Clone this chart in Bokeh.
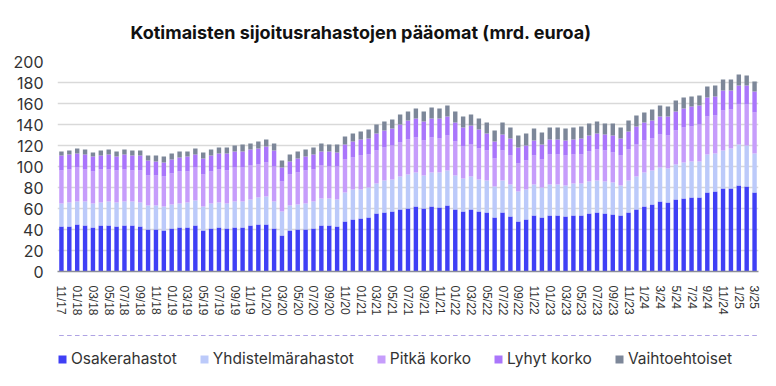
from bokeh.plotting import figure
from bokeh.models import ColumnDataSource, Legend, LegendItem, FixedTicker, Range1d
from bokeh.layouts import column
from bokeh.embed import file_html
from bokeh.resources import INLINE

# Monthly categories 11/2017 .. 3/2025
months = []
y, m = 2017, 11
while (y, m) <= (2025, 3):
    months.append(f"{m:02d}/{y % 100:02d}")
    m += 1
    if m > 12:
        m, y = 1, y + 1

tick_labels = [
    "11/17", "01/18", "03/18", "05/18", "07/18", "09/18", "11/18", "01/19", "03/19",
    "05/19", "07/19", "09/19", "11/19", "01/20", "03/20", "05/20", "07/20", "09/20",
    "11/20", "01/21", "03/21", "05/21", "07/21", "09/21", "11/21", "01/22", "03/22",
    "05/22", "07/22", "09/22", "11/22", "01/23", "03/23", "05/23", "07/23", "09/23",
    "11/23", "1/24", "3/24", "5/24", "7/24", "9/24", "11/24", "1/25", "3/25",
]

osake = [42.9, 42.9, 44.8, 43.8, 41.9, 43.8, 43.8, 42.9, 43.8, 43.8, 42.9, 40.0, 40.0, 39.0, 41.0,
         41.9, 41.9, 43.8, 39.0, 41.0, 41.9, 41.0, 41.9, 41.9, 43.8, 44.8, 44.8, 41.0, 34.3, 39.0,
         40.0, 40.0, 41.0, 43.8, 43.8, 42.9, 47.6, 49.5, 50.5, 51.4, 55.2, 56.2, 57.1, 59.0, 60.0,
         61.9, 60.0, 61.9, 61.0, 62.9, 59.0, 57.1, 59.0, 57.1, 56.2, 51.4, 56.2, 52.4, 47.6, 49.5,
         53.3, 51.4, 53.3, 53.3, 52.4, 53.3, 53.3, 55.2, 56.2, 55.2, 54.3, 53.3, 56.2, 59.0, 61.9,
         63.8, 66.7, 65.7, 68.6, 69.5, 70.5, 70.5, 75.2, 76.2, 79.0, 79.0, 81.9, 81.0, 75.2]
yhdistelma = [21.9, 22.8, 21.9, 22.9, 22.9, 21.9, 22.9, 22.8, 22.9, 22.9, 22.8, 22.9, 22.9, 22.9, 22.8,
              22.9, 23.8, 23.8, 22.9, 23.8, 23.8, 23.8, 24.8, 24.8, 24.8, 25.7, 26.6, 25.7, 22.8, 23.9,
              23.8, 24.8, 25.7, 25.7, 25.7, 25.7, 27.6, 28.6, 27.6, 28.6, 28.6, 30.5, 30.5, 31.5, 32.4,
              32.4, 31.4, 32.4, 33.3, 33.3, 32.4, 31.5, 31.5, 30.5, 30.5, 29.6, 30.5, 30.5, 28.6, 28.6,
              29.6, 28.6, 29.6, 29.6, 29.5, 30.5, 30.5, 30.5, 30.5, 30.5, 30.5, 28.6, 30.5, 31.5, 32.4,
              32.4, 32.3, 32.4, 33.3, 34.3, 34.3, 34.3, 36.2, 36.2, 36.2, 38.1, 39.0, 39.0, 37.2]
pitka_korko = [31.4, 31.4, 32.3, 30.4, 30.4, 31.4, 30.4, 30.5, 30.4, 29.5, 30.5, 28.5, 28.5, 28.6, 29.5,
               30.4, 29.5, 31.4, 30.5, 30.4, 31.4, 31.4, 32.3, 32.3, 32.4, 31.4, 32.4, 33.3, 28.6, 29.5,
               30.5, 31.4, 30.4, 31.5, 30.5, 31.4, 31.5, 30.5, 32.4, 31.4, 31.4, 31.4, 32.4, 32.4, 33.3,
               33.3, 33.4, 33.3, 32.4, 33.3, 32.4, 30.4, 30.5, 29.5, 28.5, 26.6, 28.5, 27.6, 26.7, 27.6,
               27.6, 26.7, 28.5, 28.5, 28.6, 27.6, 27.6, 28.6, 29.5, 29.5, 28.5, 28.6, 29.5, 30.5, 30.5,
               30.5, 31.5, 31.4, 32.4, 33.3, 33.3, 35.2, 36.2, 36.2, 38.1, 37.2, 38.1, 39.0, 39.0]
lyhyt_korko = [14.3, 14.3, 13.4, 14.3, 14.3, 13.4, 14.3, 13.3, 14.3, 14.3, 14.3, 14.3, 13.4, 13.3, 13.4,
               13.4, 14.3, 12.4, 15.2, 15.3, 15.3, 16.2, 15.3, 15.3, 15.2, 15.2, 15.2, 15.2, 13.3, 12.4,
               13.3, 13.3, 14.3, 13.3, 14.3, 13.3, 14.3, 15.2, 15.2, 15.3, 16.2, 16.2, 16.2, 17.1, 18.1,
               18.1, 18.1, 18.1, 19.0, 18.1, 18.1, 18.1, 18.0, 18.1, 16.2, 16.2, 15.3, 16.2, 15.2, 14.3,
               14.3, 14.3, 14.3, 14.3, 14.3, 14.3, 15.3, 15.2, 15.2, 15.3, 16.2, 16.2, 17.1, 17.1, 17.1,
               17.1, 17.1, 18.1, 18.1, 18.1, 19.0, 18.1, 18.1, 18.1, 19.1, 18.1, 18.1, 18.1, 20.0]
vaihtoehtoiset = [3.8, 3.8, 4.7, 4.8, 3.8, 4.7, 4.8, 4.8, 4.8, 4.7, 4.7, 4.8, 5.7, 5.7, 5.7,
                  5.7, 4.8, 5.7, 5.7, 5.7, 5.7, 5.7, 5.7, 6.7, 5.7, 6.7, 6.7, 6.7, 6.7, 6.6,
                  6.7, 6.7, 6.7, 7.6, 6.7, 7.7, 7.6, 7.6, 7.6, 8.5, 8.6, 8.6, 8.6, 9.5, 8.6,
                  9.5, 9.5, 10.5, 9.5, 10.5, 10.5, 10.5, 10.5, 10.5, 10.5, 10.5, 11.4, 10.4, 11.4, 11.4,
                  11.4, 11.4, 11.4, 11.4, 11.4, 11.4, 11.4, 11.5, 11.5, 10.5, 11.5, 10.4, 10.5, 10.5, 9.5,
                  10.5, 10.5, 9.5, 10.5, 10.5, 9.6, 9.5, 10.5, 10.4, 10.5, 10.5, 10.5, 9.6, 9.6]

series = ["Osakerahastot", "Yhdistelmärahastot", "Pitkä korko", "Lyhyt korko", "Vaihtoehtoiset"]
colors = ["#3f3ff5", "#bccafa", "#c69dfb", "#aa76fb", "#7d8799"]

xs = list(range(len(months)))
src = ColumnDataSource(data={
    "x": xs, "month": months,
    series[0]: osake, series[1]: yhdistelma, series[2]: pitka_korko,
    series[3]: lyhyt_korko, series[4]: vaihtoehtoiset,
})

p = figure(width=760, height=335, output_backend="svg", toolbar_location=None,
           x_range=Range1d(-0.5, len(months) - 0.5), y_range=Range1d(0, 200),
           min_border_left=57, min_border_right=2, min_border_top=61, min_border_bottom=64)
p.outline_line_color = None
p.background_fill_color = "white"
p.border_fill_color = "white"

p.vbar_stack(series, x="x", width=0.56, color=colors, line_color=None, source=src)

# Title
p.title.text = "Kotimaisten sijoitusrahastojen pääomat (mrd. euroa)"
p.title.align = "left"
p.title.offset = 73
p.title.text_font = "Inter"
p.title.text_font_size = "18px"
p.title.text_font_style = "bold"
p.title.text_color = "#111111"
p.title.standoff = 38

# Axes
tick_idx = list(range(0, len(months), 2))
p.xaxis.ticker = FixedTicker(ticks=tick_idx)
p.xaxis.major_label_overrides = {i: lab for i, lab in zip(tick_idx, tick_labels)}
p.xaxis.major_label_orientation = "vertical"
p.xaxis.major_label_text_font = "Liberation Sans"
p.xaxis.major_label_text_font_size = "12px"
p.xaxis.major_label_text_color = "#333333"
p.xaxis.major_tick_line_color = None
p.xaxis.minor_tick_line_color = None
p.xaxis.axis_line_color = "#8a8d99"
p.xaxis.axis_line_width = 1.5
p.xaxis.major_label_standoff = 8

p.yaxis.ticker = FixedTicker(ticks=list(range(0, 201, 20)))
p.yaxis.major_label_text_font = "Inter"
p.yaxis.major_label_text_font_size = "16px"
p.yaxis.major_label_text_color = "#333333"
p.yaxis.axis_line_color = None
p.yaxis.major_tick_line_color = None
p.yaxis.minor_tick_line_color = None
p.yaxis.major_label_standoff = 8

p.xgrid.grid_line_color = None
p.ygrid.grid_line_color = "#d9d9d9"
p.ygrid.grid_line_width = 1.5
p.ygrid.ticker = FixedTicker(ticks=list(range(20, 201, 20)))

# Legend in its own strip below the chart. Its frame is aligned with the chart's
# frame by the column layout; the proxy bars lie far below its visible y range.
lg = figure(width=760, height=35, output_backend="svg", toolbar_location=None,
            x_range=Range1d(-0.5, len(months) - 0.5), y_range=Range1d(-1000, -999),
            x_axis_location=None, y_axis_location=None,
            min_border_left=0, min_border_right=0, min_border_top=0, min_border_bottom=0)
lg.grid.grid_line_color = None
lg.outline_line_color = None
proxies = lg.vbar_stack(series, x="x", width=0.56, color=colors, line_color=None, source=src)
legend = Legend(items=[LegendItem(label=s, renderers=[r]) for s, r in zip(series, proxies)],
                orientation="horizontal", location=(0, 2), padding=0, margin=0,
                spacing=22, label_standoff=4, glyph_width=10, glyph_height=10,
                label_height=14, label_text_font="Inter", label_text_font_size="15.5px",
                label_text_color="#333333", border_line_color=None, background_fill_alpha=0)
lg.add_layout(legend, "center")

layout = column(p, lg, spacing=0)
open("out.html", "w").write(file_html(layout, INLINE))
